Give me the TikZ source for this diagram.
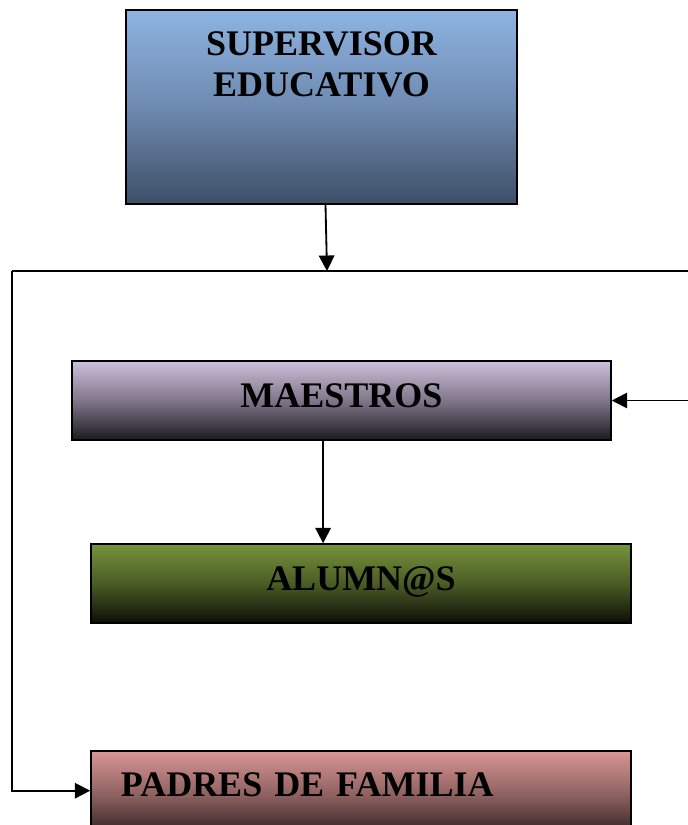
\documentclass[tikz,border=0pt]{standalone}
\usepackage{fontspec}
\setmainfont{Liberation Serif}
\usetikzlibrary{arrows.meta}

\definecolor{supTop}{RGB}{141,180,226}
\definecolor{supMid}{RGB}{110,138,176}
\definecolor{supBot}{RGB}{62,79,103}
\definecolor{maeTop}{RGB}{204,192,218}
\definecolor{maeMid}{RGB}{128,118,138}
\definecolor{maeBot}{RGB}{28,25,31}
\definecolor{aluTop}{RGB}{119,147,60}
\definecolor{aluMid}{RGB}{74,92,37}
\definecolor{aluBot}{RGB}{12,14,7}
\definecolor{padTop}{RGB}{217,150,148}
\definecolor{padMid}{RGB}{140,96,95}
\definecolor{padBot}{RGB}{36,24,24}

\begin{document}
\begin{tikzpicture}[x=0.025cm, y=-0.025cm, line width=1.3pt,
                    >={Triangle[length=11pt,width=11pt]},
                    bigtext/.style={font=\bfseries\fontsize{25.6}{29}\selectfont},
                    box/.style={rectangle, draw, line width=1pt, shading=axis, bigtext,
                                minimum width=13.5cm, minimum height=1.975cm, text depth=7pt}]

  \useasboundingbox (0,0) rectangle (688,825);

  \node[box, minimum width=9.775cm, minimum height=4.85cm,
        top color=supTop, bottom color=supBot, middle color=supMid,
        label={[anchor=north, yshift=-0.42cm, align=center, bigtext]north:SUPERVISOR\\EDUCATIVO}]
        (sup) at (321.5,107) {};
  \node[box, minimum width=13.475cm, top color=maeTop, bottom color=maeBot, middle color=maeMid]
        (maestros) at (341.5,400.5) {MAESTROS};
  \node[box, top color=aluTop, bottom color=aluBot, middle color=aluMid]
        (alumnos) at (361,583.5) {ALUMN@S};
  \node[box, minimum height=2.225cm, text width=12cm, inner xsep=0.75cm, align=left, text depth=15.6pt,
        top color=padTop, bottom color=padBot, middle color=padMid]
        (padres) at (361,795.5) {PADRES DE FAMILIA};

  \coordinate (jn) at (327,271);
  \coordinate (lt) at (12,271);
  \coordinate (rt) at (688,271);

  \draw[->] ([xshift=0.1cm]sup.south) -- (jn);
  \draw (lt) -- (rt);
  \draw[->] (lt) |- ([yshift=0.12cm]padres.west);
  \draw[->] (maestros.east -| rt) -- (maestros.east);
  \draw[->] ([xshift=-0.46cm]maestros.south) -- ([xshift=-0.46cm]maestros.south |- alumnos.north);

\end{tikzpicture}
\end{document}
